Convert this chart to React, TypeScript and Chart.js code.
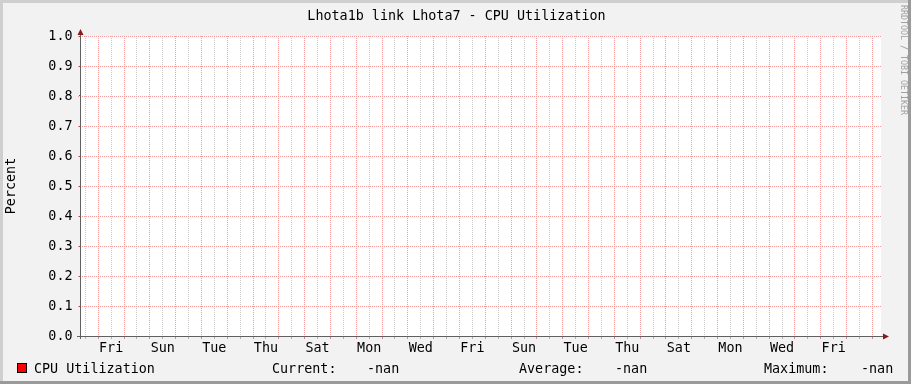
import React, { useEffect, useRef } from 'react';
import { Chart, registerables } from 'chart.js';

Chart.register(...registerables);

// ---- data ----
const chartTitle = 'Lhota1b link Lhota7 - CPU Utilization';
const yAxisTitle = 'Percent';
const seriesName = 'CPU Utilization';
const watermark = 'RRDTOOL / TOBI OETIKER';
const xTickLabels = ['Fri', 'Sun', 'Tue', 'Thu', 'Sat', 'Mon', 'Wed', 'Fri', 'Sun', 'Tue', 'Thu', 'Sat', 'Mon', 'Wed', 'Fri'];
const sampleDays = [0, 31];
const cpuValues: (number | null)[] = [null, null];
const statLabels = ['Current:', 'Average:', 'Maximum:'];

// ---- config ----
const SPAN_DAYS = 31;
const FIRST_MIDNIGHT = 16 / 24;
const FONT = '"DejaVu Sans Mono"';
const FS = 13.4;
const RED_GRID = '#f49a9a';
const GRAY_GRID = '#c8c8c8';
const AXIS = '#606060';
const ARROW = '#8a1a1a';

const gridTicks: number[] = [];
for (let t = FIRST_MIDNIGHT - 0.5; t <= SPAN_DAYS + 1e-9; t += 0.5) {
  if (t >= 0) gridTicks.push(Number(t.toFixed(6)));
}
const isMidnight = (v: number) => {
  const r = (v - FIRST_MIDNIGHT) % 1;
  return Math.abs(r) < 1e-6 || Math.abs(r - 1) < 1e-6;
};
const labelFor = (v: number) => {
  const k = (v - FIRST_MIDNIGHT - 0.5) / 2;
  const j = Math.round(k);
  if (Math.abs(k - j) < 1e-6 && j >= 0 && j < xTickLabels.length) return xTickLabels[j];
  return '';
};

const fmt = (v: number | null) => (v === null || !isFinite(v) ? '-nan' : v.toFixed(2));
const valid = cpuValues.filter((v): v is number => v !== null && isFinite(v));
const statCurrent = valid.length ? valid[valid.length - 1] : null;
const statAverage = valid.length ? valid.reduce((a, b) => a + b, 0) / valid.length : null;
const statMaximum = valid.length ? Math.max(...valid) : null;

const rrdPlugin = {
  id: 'rrdDecor',
  beforeDraw(chart: any) {
    const { ctx, width, height, chartArea } = chart;
    ctx.save();
    ctx.fillStyle = '#f2f2f2';
    ctx.fillRect(0, 0, width, height);
    ctx.fillStyle = '#cfcfcf';
    ctx.fillRect(0, 0, width, 3);
    ctx.fillRect(0, 0, 3, height);
    ctx.fillStyle = '#9a9a9a';
    ctx.fillRect(0, height - 3, width, 3);
    ctx.fillRect(width - 3, 0, 3, height);
    ctx.fillStyle = '#ffffff';
    ctx.fillRect(chartArea.left, chartArea.top, chartArea.right - chartArea.left, chartArea.bottom - chartArea.top);
    ctx.restore();
  },
  beforeDatasetsDraw(chart: any) {
    // dotted grid, placed through the chart's own scales
    const { ctx, chartArea, scales } = chart;
    const { left, right, top, bottom } = chartArea;
    ctx.save();
    const xs = scales.x;
    xs.ticks.forEach((t: any) => {
      const px = Math.floor(xs.getPixelForValue(t.value));
      ctx.fillStyle = isMidnight(t.value) ? RED_GRID : GRAY_GRID;
      for (let y = top; y < bottom; y += 2) ctx.fillRect(px, y, 1, 1);
    });
    const ys = scales.y;
    ctx.fillStyle = RED_GRID;
    ys.ticks.forEach((t: any) => {
      const py = Math.round(ys.getPixelForValue(t.value));
      for (let x = left - 3; x < right; x += 2) ctx.fillRect(x, py, 1, 1);
    });
    ctx.restore();
  },
  afterDraw(chart: any) {
    const { ctx, chartArea, width } = chart;
    const { left, right, top, bottom } = chartArea;
    ctx.save();
    ctx.strokeStyle = AXIS;
    ctx.lineWidth = 1;
    ctx.beginPath();
    ctx.moveTo(left - 0.5, bottom + 3);
    ctx.lineTo(left - 0.5, top - 4);
    ctx.moveTo(left - 4, bottom + 0.5);
    ctx.lineTo(right + 4, bottom + 0.5);
    ctx.stroke();
    ctx.fillStyle = ARROW;
    ctx.beginPath();
    ctx.moveTo(left - 0.5, top - 7);
    ctx.lineTo(left - 3.5, top - 1);
    ctx.lineTo(left + 2.5, top - 1);
    ctx.closePath();
    ctx.fill();
    ctx.beginPath();
    ctx.moveTo(right + 8, bottom + 0.5);
    ctx.lineTo(right + 2, bottom - 2.5);
    ctx.lineTo(right + 2, bottom + 3.5);
    ctx.closePath();
    ctx.fill();

    ctx.fillStyle = '#000';
    ctx.font = `${FS}px ${FONT}`;
    ctx.textAlign = 'center';
    ctx.textBaseline = 'alphabetic';
    ctx.fillText(chartTitle, width / 2 + 1, 19.5);

    ctx.fillStyle = '#ff0000';
    ctx.fillRect(17, 363, 10, 10);
    ctx.strokeStyle = '#000';
    ctx.strokeRect(17.5, 363.5, 9, 9);
    ctx.fillStyle = '#000';
    ctx.textAlign = 'left';
    ctx.fillText(seriesName, 34, 373);
    const stats = [statCurrent, statAverage, statMaximum];
    const labelX = [272, 519, 764];
    const valueX = [367, 615, 861];
    statLabels.forEach((s, i) => {
      ctx.fillText(s, labelX[i], 373);
      ctx.fillText(fmt(stats[i]), valueX[i], 373);
    });

    ctx.translate(903, 5);
    ctx.rotate(Math.PI / 2);
    ctx.fillStyle = '#a0a0a0';
    ctx.font = `8.3px ${FONT}`;
    ctx.textAlign = 'left';
    ctx.textBaseline = 'middle';
    ctx.fillText(watermark, 0, 0);
    ctx.restore();
  },
};

export default function App() {
  const ref = useRef<HTMLCanvasElement>(null);
  useEffect(() => {
    const canvas = ref.current!;
    const chart = new Chart(canvas, {
      type: 'line',
      data: {
        datasets: [
          {
            label: seriesName,
            data: sampleDays.map((d, i) => ({ x: d, y: cpuValues[i] })) as any,
            borderColor: '#ff0000',
            backgroundColor: '#ff0000',
            pointRadius: 0,
            borderWidth: 1,
          },
        ],
      },
      options: {
        responsive: false,
        animation: false,
        devicePixelRatio: 1,
        layout: { padding: { top: 36, right: 30, bottom: 28, left: 0 } },
        plugins: {
          legend: { display: false },
          title: { display: false },
          tooltip: { enabled: false },
        },
        scales: {
          x: {
            type: 'linear',
            min: 0,
            max: SPAN_DAYS,
            afterBuildTicks: (s: any) => {
              s.ticks = gridTicks.map((v) => ({ value: v }));
            },
            afterFit: (s: any) => {
              s.height = 20;
            },
            grid: {
              drawOnChartArea: false,
              tickColor: (c: any) => (c.tick && isMidnight(c.tick.value) ? '#e08080' : '#b0b0b0'),
              tickLength: 3,
              lineWidth: 1,
            },
            border: { display: false },
            ticks: {
              autoSkip: false,
              maxRotation: 0,
              minRotation: 0,
              padding: 1,
              color: '#000',
              font: { family: FONT, size: FS },
              callback: (v: any) => labelFor(Number(v)),
            },
          },
          y: {
            type: 'linear',
            min: 0,
            max: 1,
            afterFit: (s: any) => {
              s.width = 81;
            },
            grid: {
              drawOnChartArea: false,
              tickColor: AXIS,
              tickLength: 2,
              lineWidth: 1,
            },
            border: { display: false },
            ticks: {
              stepSize: 0.1,
              padding: 6.5,
              labelOffset: 1,
              color: '#000',
              font: { family: FONT, size: FS },
              callback: (v: any) => Number(v).toFixed(1),
            },
            title: {
              display: true,
              text: yAxisTitle,
              color: '#000',
              padding: { top: 3, bottom: 0 },
              font: { family: FONT, size: FS },
            },
          },
        },
      } as any,
      plugins: [rrdPlugin],
    });
    return () => chart.destroy();
  }, []);
  return (
    <div style={{ position: 'fixed', left: 0, top: 0, width: 911, height: 384 }}>
      <canvas ref={ref} width={911} height={384} style={{ display: 'block' }} />
    </div>
  );
}
